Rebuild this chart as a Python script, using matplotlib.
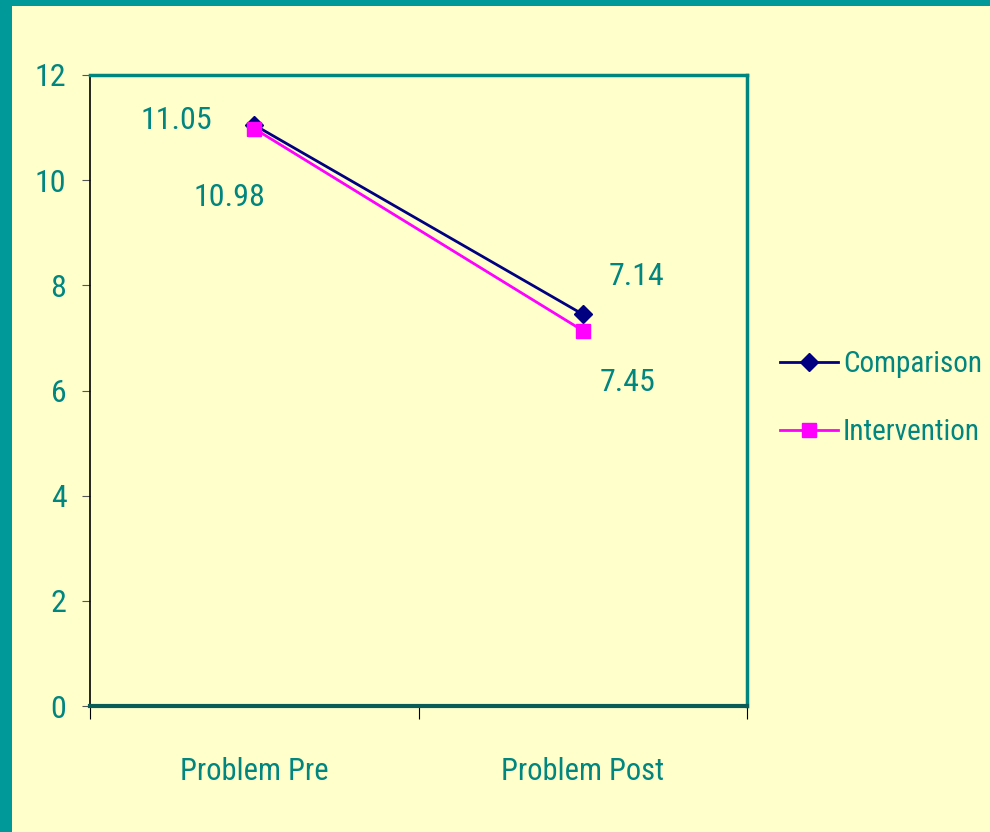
import matplotlib.pyplot as plt
from matplotlib.patches import Rectangle

categories = ["Problem Pre", "Problem Post"]
comparison = [11.05, 7.45]
intervention = [10.98, 7.14]
yticks = [0, 2, 4, 6, 8, 10, 12]

teal = "#00857f"
plt.rcParams['font.family'] = ['Roboto Condensed', 'Liberation Sans', 'DejaVu Sans']

fig = plt.figure(figsize=(9.9, 8.32), dpi=100)
fig.patch.set_facecolor("#009999")
fig.patches.append(Rectangle((12 / 990, 0), 1, 1 - 6 / 832, transform=fig.transFigure,
                             facecolor="#ffffcc", edgecolor="none", zorder=-10))

ax = fig.add_axes([90 / 990, 126 / 832, 657 / 990, 631 / 832])
ax.set_facecolor("#ffffcc")

x = list(range(len(categories)))
ax.plot(x, comparison, color="#000080", marker="D", markersize=9, lw=2,
        label="Comparison", zorder=3)
ax.plot(x, intervention, color="#ff00ff", marker="s", markersize=10, lw=2,
        label="Intervention", zorder=4)

# value labels, placed as in the original
lab = dict(color=teal, fontsize=23, ha="center", va="center", textcoords="offset points")
ax.annotate(f"{comparison[0]:.2f}", (x[0], comparison[0]), xytext=(-56, 3.5), **lab)
ax.annotate(f"{intervention[0]:.2f}", (x[0], intervention[0]), xytext=(-18, -49.5), **lab)
ax.annotate(f"{intervention[1]:.2f}", (x[1], intervention[1]), xytext=(39, 39), **lab)
ax.annotate(f"{comparison[1]:.2f}", (x[1], comparison[1]), xytext=(32, -49), **lab)

ax.set_xlim(-0.5, 1.5)
ax.set_ylim(0, 12)
ax.set_yticks(yticks)
ax.set_yticklabels([str(v) for v in yticks])
ax.set_xticks([-0.5, 0.5, 1.5])
ax.set_xticklabels([])
ax.set_xticks(x, minor=True)
ax.set_xticklabels(categories, minor=True)
ax.tick_params(axis="x", which="major", length=9, direction="out", color="black")
ax.tick_params(axis="x", which="minor", length=0, pad=37, labelsize=22, labelcolor=teal)
ax.tick_params(axis="y", length=6, direction="out", color="#555555", pad=11,
               labelsize=23, labelcolor=teal)

ax.spines["left"].set_color("black")
ax.spines["left"].set_linewidth(1.2)
ax.spines["bottom"].set_color("#0a5c58")
ax.spines["bottom"].set_linewidth(3)
for s in ["top", "right"]:
    ax.spines[s].set_color(teal)
    ax.spines[s].set_linewidth(2.5)

leg = ax.legend(loc="center left", bbox_to_anchor=(1.032, 0.488), frameon=False,
                fontsize=21, handlelength=2.0, handletextpad=0.17, labelspacing=1.35,
                borderaxespad=0)
for t in leg.get_texts():
    t.set_color(teal)

fig.savefig("out.png", dpi=100, facecolor=fig.get_facecolor())
